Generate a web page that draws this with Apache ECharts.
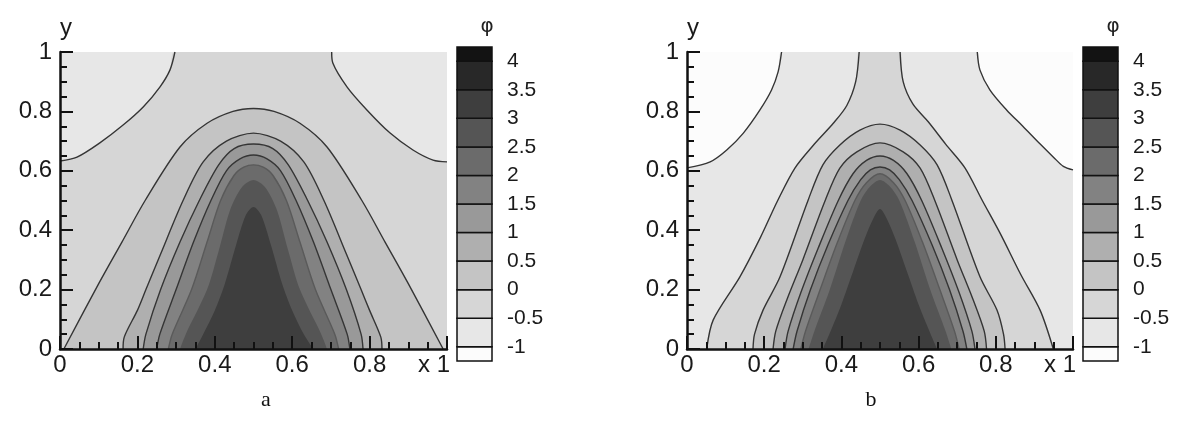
<!DOCTYPE html>
<html>
<head>
<meta charset="utf-8">
<script src="https://cdn.jsdelivr.net/npm/echarts@6/dist/echarts.min.js"></script>
<style>
html, body { margin: 0; padding: 0; background: #fff; }
#chart { width: 1177px; height: 447px; }
</style>
</head>
<body>
<div id="chart"></div>
<script>
// contour levels shown on the colour bar
const levels = [-1, -0.5, 0, 0.5, 1, 1.5, 2, 2.5, 3, 3.5, 4]
// fill of each band: below -1, -1..-0.5, ..., above 4
const bandColors = ["#fcfcfc", "#e7e7e7", "#d6d6d6", "#c4c4c4", "#afafaf", "#999999",
	"#828282", "#6b6b6b", "#555555", "#3e3e3e", "#282828", "#131313"]

// ---- panel a : contour lines, [x, y]
const aM05Left = [[0, 0.633], [0.044, 0.646], [0.103, 0.694], [0.163, 0.754], [0.215, 0.815], [0.258, 0.882], [0.284, 0.939], [0.297, 1]]
const aM05Right = [[0.702, 1], [0.705, 0.963], [0.742, 0.882], [0.793, 0.805], [0.853, 0.727], [0.912, 0.67], [0.964, 0.636], [1, 0.63]]
const aL0 = [[0.01, 0], [0.1, 0.22], [0.16, 0.36], [0.22, 0.5], [0.31, 0.68], [0.38, 0.76], [0.447, 0.8], [0.5, 0.81],
	[0.553, 0.8], [0.62, 0.76], [0.69, 0.68], [0.78, 0.5], [0.84, 0.36], [0.9, 0.22], [0.99, 0]]
const aL05 = [[0.163, 0], [0.166, 0.04], [0.2, 0.13], [0.222, 0.2], [0.26, 0.32], [0.318, 0.5], [0.37, 0.63], [0.43, 0.7], [0.5, 0.727],
	[0.57, 0.7], [0.63, 0.63], [0.682, 0.5], [0.74, 0.32], [0.778, 0.2], [0.8, 0.13], [0.829, 0.04], [0.832, 0]]
const aL1 = [[0.215, 0], [0.222, 0.05], [0.26, 0.2], [0.31, 0.36], [0.36, 0.5], [0.41, 0.62], [0.45, 0.675], [0.5, 0.69],
	[0.55, 0.675], [0.59, 0.62], [0.64, 0.5], [0.69, 0.36], [0.74, 0.2], [0.778, 0.05], [0.783, 0]]
const aL15 = [[0.25, 0], [0.258, 0.05], [0.3, 0.2], [0.345, 0.36], [0.39, 0.5], [0.43, 0.6], [0.465, 0.64], [0.5, 0.653],
	[0.535, 0.64], [0.57, 0.6], [0.61, 0.5], [0.655, 0.36], [0.7, 0.2], [0.742, 0.05], [0.749, 0]]
const aL2 = [[0.28, 0], [0.29, 0.05], [0.34, 0.2], [0.38, 0.36], [0.415, 0.5], [0.45, 0.585], [0.475, 0.612], [0.5, 0.62],
	[0.525, 0.612], [0.55, 0.585], [0.585, 0.5], [0.62, 0.36], [0.66, 0.2], [0.71, 0.05], [0.72, 0]]
const aL25 = [[0.31, 0], [0.325, 0.05], [0.38, 0.2], [0.41, 0.33], [0.44, 0.47], [0.47, 0.545], [0.5, 0.569],
	[0.53, 0.545], [0.56, 0.47], [0.59, 0.33], [0.62, 0.2], [0.675, 0.05], [0.69, 0]]
const aL3 = [[0.35, 0], [0.37, 0.05], [0.4, 0.13], [0.426, 0.22], [0.455, 0.35], [0.48, 0.45], [0.5, 0.478],
	[0.52, 0.45], [0.545, 0.35], [0.574, 0.22], [0.6, 0.13], [0.63, 0.05], [0.655, 0]]

// ---- panel b
const bM1Left = [[0, 0.61], [0.06, 0.63], [0.103, 0.67], [0.146, 0.727], [0.189, 0.805], [0.219, 0.872], [0.236, 0.933], [0.245, 1]]
const bM1Right = [[0.752, 1], [0.759, 0.939], [0.785, 0.872], [0.828, 0.805], [0.87, 0.75], [0.915, 0.69], [0.95, 0.645], [0.975, 0.615], [1, 0.603]]
const bM05Left = [[0.051, 0], [0.068, 0.098], [0.137, 0.243], [0.19, 0.375], [0.235, 0.5], [0.28, 0.61], [0.33, 0.69], [0.379, 0.76], [0.414, 0.82], [0.437, 0.9], [0.446, 1]]
const bM05Right = [[0.552, 1], [0.56, 0.9], [0.585, 0.825], [0.625, 0.765], [0.67, 0.69], [0.72, 0.61], [0.765, 0.5], [0.811, 0.39], [0.865, 0.25], [0.915, 0.13], [0.949, 0]]
const bL0 = [[0.171, 0], [0.175, 0.05], [0.197, 0.131], [0.241, 0.243], [0.314, 0.502], [0.352, 0.62], [0.396, 0.687], [0.448, 0.737], [0.5, 0.757],
	[0.552, 0.737], [0.604, 0.687], [0.648, 0.62], [0.686, 0.502], [0.759, 0.243], [0.803, 0.131], [0.82, 0.05], [0.824, 0]]
const bL05 = [[0.223, 0], [0.23, 0.06], [0.26, 0.17], [0.3, 0.3], [0.358, 0.5], [0.396, 0.609], [0.44, 0.664], [0.5, 0.694],
	[0.56, 0.664], [0.604, 0.609], [0.642, 0.5], [0.7, 0.3], [0.74, 0.17], [0.77, 0.06], [0.776, 0]]
const bL1 = [[0.254, 0], [0.262, 0.06], [0.295, 0.19], [0.34, 0.34], [0.392, 0.5], [0.43, 0.59], [0.465, 0.635], [0.5, 0.65],
	[0.535, 0.635], [0.57, 0.59], [0.608, 0.5], [0.66, 0.34], [0.705, 0.19], [0.738, 0.06], [0.746, 0]]
const bL15 = [[0.275, 0], [0.285, 0.06], [0.32, 0.2], [0.365, 0.35], [0.417, 0.5], [0.45, 0.57], [0.475, 0.603], [0.5, 0.613],
	[0.525, 0.603], [0.55, 0.57], [0.583, 0.5], [0.635, 0.35], [0.68, 0.2], [0.715, 0.06], [0.725, 0]]
const bL2 = [[0.295, 0], [0.307, 0.06], [0.345, 0.2], [0.39, 0.36], [0.435, 0.5], [0.465, 0.56], [0.5, 0.59],
	[0.535, 0.56], [0.565, 0.5], [0.61, 0.36], [0.655, 0.2], [0.693, 0.06], [0.705, 0]]
const bL25 = [[0.315, 0], [0.33, 0.06], [0.37, 0.2], [0.41, 0.36], [0.45, 0.5], [0.475, 0.548], [0.5, 0.569],
	[0.525, 0.548], [0.55, 0.5], [0.59, 0.36], [0.63, 0.2], [0.67, 0.06], [0.685, 0]]
const bL3 = [[0.352, 0], [0.372, 0.06], [0.4, 0.15], [0.43, 0.26], [0.46, 0.37], [0.483, 0.44], [0.5, 0.471],
	[0.517, 0.44], [0.54, 0.37], [0.57, 0.26], [0.6, 0.15], [0.628, 0.06], [0.648, 0]]

const FONT = "Liberation Sans"
const LINE = "#353535"

function bandAbove(level) {
	return bandColors[levels.indexOf(level) + 1]
}

// filled band above a contour; the line is drawn in dark grey, which
// disappears against the dark inner bands as in the original
function fill(idx, data, level, lineColor) {
	return {
		type: "line", xAxisIndex: idx, yAxisIndex: idx, data, smooth: 0.3,
		symbol: "none", silent: true, animation: false,
		lineStyle: lineColor ? { color: lineColor, width: 1.4 } : { width: 0, opacity: 0 },
		areaStyle: { color: bandAbove(level), opacity: 1, origin: "start" },
	}
}
function line(idx, data) {
	return {
		type: "line", xAxisIndex: idx, yAxisIndex: idx, data, smooth: 0.3,
		symbol: "none", silent: true, animation: false,
		lineStyle: { color: LINE, width: 1.4 },
	}
}

const tickStyle = { color: "#111", width: 2 }
function plotAxes(idx) {
	return {
		x: {
			gridIndex: idx, type: "value", min: 0, max: 1, interval: 0.2, z: 10,
			axisLine: { lineStyle: { color: "#111", width: 2.5 } },
			axisTick: { inside: true, length: 13, lineStyle: tickStyle },
			minorTick: { show: true, splitNumber: 4, length: 7, lineStyle: tickStyle },
			splitLine: { show: false },
			axisLabel: {
				margin: 4, color: "#1a1a1a", fontFamily: FONT, fontSize: 24,
				formatter: (v) => v === 1 ? "{e|x 1}" : v === 0 ? "0" : v.toFixed(1),
				rich: { e: { fontFamily: FONT, fontSize: 24, color: "#1a1a1a", padding: [0, 26, 0, 0] } },
			},
		},
		y: {
			gridIndex: idx, type: "value", min: 0, max: 1, interval: 0.2, z: 10,
			name: "y", nameLocation: "end", nameGap: 12,
			nameTextStyle: { fontFamily: FONT, fontSize: 24, color: "#1a1a1a", align: "center", padding: [0, 0, 0, 12] },
			axisLine: { lineStyle: { color: "#111", width: 2.5 } },
			axisTick: { inside: true, length: 13, lineStyle: tickStyle },
			minorTick: { show: true, splitNumber: 4, length: 7, lineStyle: tickStyle },
			splitLine: { show: false },
			axisLabel: {
				margin: 8, color: "#1a1a1a", fontFamily: FONT, fontSize: 24,
				formatter: (v) => (v === 0 || v === 1) ? String(v) : v.toFixed(1),
			},
		},
	}
}

const cbMin = -1.25, cbMax = 4.25
const cbData = bandColors.map((c, i) => [
	i === 0 ? cbMin : levels[i - 1],
	i === bandColors.length - 1 ? cbMax : levels[i],
	i,
])
function cbAxes(idx) {
	return {
		x: { gridIndex: idx, type: "value", min: 0, max: 1, show: false },
		y: {
			gridIndex: idx, type: "value", min: cbMin, max: cbMax, position: "right",
			axisLine: { show: false }, axisTick: { show: false }, splitLine: { show: false },
			axisLabel: {
				customValues: levels, margin: 15, align: "left",
				color: "#1a1a1a", fontFamily: FONT, fontSize: 21,
				formatter: (v) => String(v),
			},
		},
	}
}
function cbSeries(idx) {
	return {
		type: "custom", xAxisIndex: idx, yAxisIndex: idx, data: cbData, silent: true, animation: false,
		encode: { y: [0, 1] },
		renderItem: (params, api) => {
			const p0 = api.coord([0, api.value(0)])
			const p1 = api.coord([1, api.value(1)])
			return {
				type: "rect",
				shape: { x: p0[0], y: p1[1], width: p1[0] - p0[0], height: p0[1] - p1[1] },
				style: { fill: bandColors[api.value(2)], stroke: "#111", lineWidth: 1.5 },
			}
		},
	}
}

const axA = plotAxes(0), axB = plotAxes(1), cbA = cbAxes(2), cbB = cbAxes(3)
const titleStyle = { fontFamily: "DejaVu Sans", fontSize: 20, fontWeight: "normal", color: "#222" }
const capStyle = { fontFamily: "Liberation Serif", fontSize: 22, fontWeight: "normal", color: "#111" }

const option = {
	backgroundColor: "#fff",
	animation: false,
	grid: [
		{ left: 60, top: 52, width: 387, height: 297, show: true, backgroundColor: bandAbove(-1), borderWidth: 0 },
		{ left: 687, top: 52, width: 386, height: 297, show: true, backgroundColor: bandColors[0], borderWidth: 0 },
		{ left: 457, top: 47, width: 35, height: 314 },
		{ left: 1083, top: 47, width: 35, height: 314 },
	],
	xAxis: [axA.x, axB.x, cbA.x, cbB.x],
	yAxis: [axA.y, axB.y, cbA.y, cbB.y],
	title: [
		{ text: "φ", left: 482, top: 12, textAlign: "center", textStyle: titleStyle },
		{ text: "φ", left: 1108, top: 12, textAlign: "center", textStyle: titleStyle },
		{ text: "a", left: 261, top: 384, textAlign: "center", textStyle: capStyle },
		{ text: "b", left: 866, top: 384, textAlign: "center", textStyle: capStyle },
	],
	series: [
		// panel a
		fill(0, aM05Left.concat(aM05Right), -0.5, null),
		fill(0, aL0, 0, LINE),
		fill(0, aL05, 0.5, LINE),
		fill(0, aL1, 1, LINE),
		fill(0, aL15, 1.5, LINE),
		fill(0, aL2, 2, "#5a5a5a"),
		fill(0, aL25, 2.5, null),
		fill(0, aL3, 3, null),
		line(0, aM05Left),
		line(0, aM05Right),
		// panel b
		fill(1, bM1Left.concat(bM1Right), -1, null),
		fill(1, bM05Left.concat(bM05Right), -0.5, null),
		fill(1, bL0, 0, LINE),
		fill(1, bL05, 0.5, LINE),
		fill(1, bL1, 1, LINE),
		fill(1, bL15, 1.5, LINE),
		fill(1, bL2, 2, "#5a5a5a"),
		fill(1, bL25, 2.5, null),
		fill(1, bL3, 3, null),
		line(1, bM1Left),
		line(1, bM1Right),
		line(1, bM05Left),
		line(1, bM05Right),
		// colour bars
		cbSeries(2),
		cbSeries(3),
	],
}

const chart = echarts.init(document.getElementById("chart"))
chart.setOption(option)
</script>
</body>
</html>
